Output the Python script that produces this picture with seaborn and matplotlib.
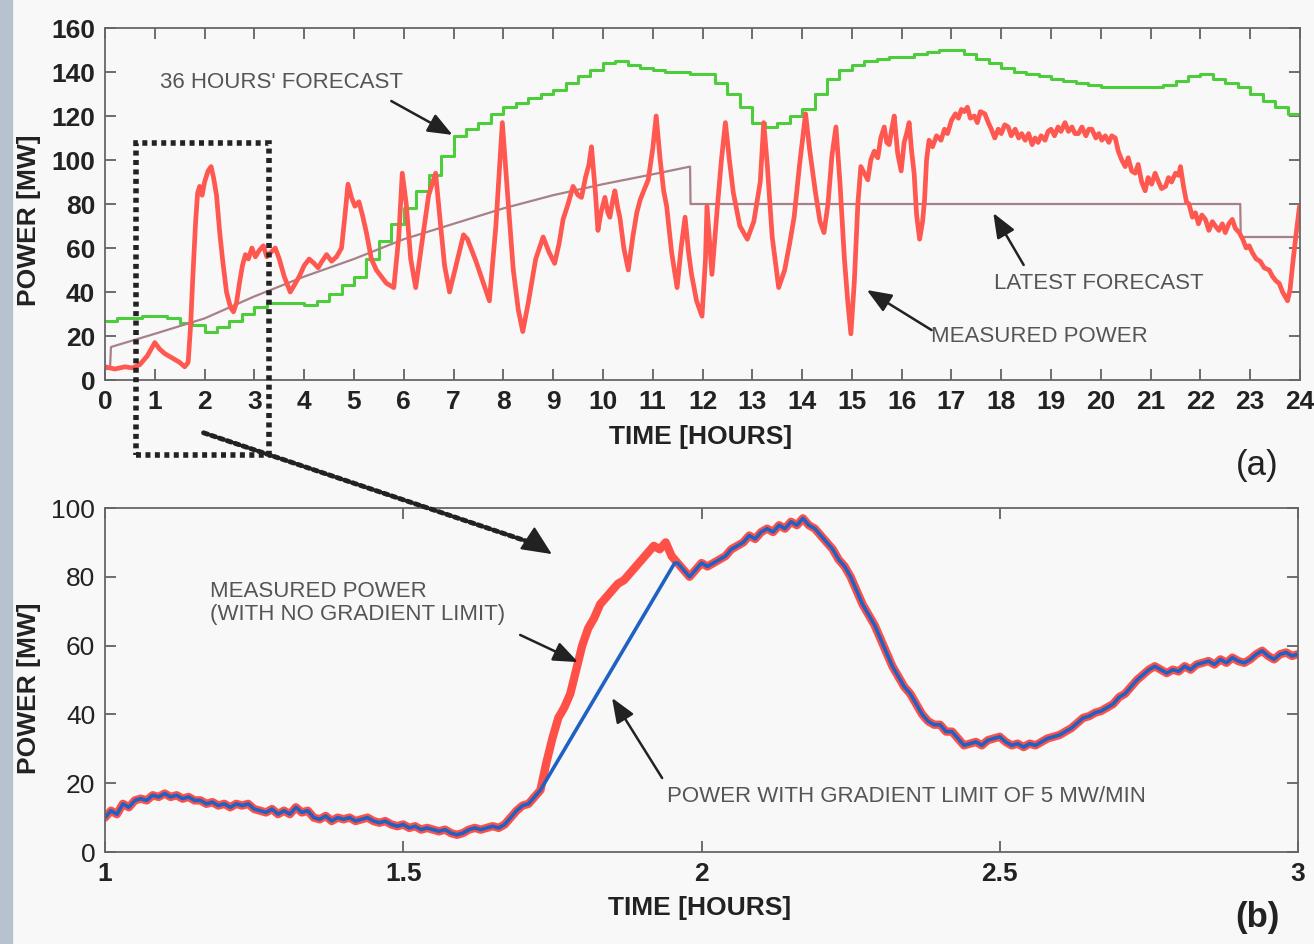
import numpy as np
import seaborn as sns
import matplotlib.pyplot as plt
from matplotlib.patches import Rectangle

# ---------------- data ----------------
# (a) 36 hours' forecast, stepped every quarter hour
fc36_t = np.arange(0, 24.01, 0.25)
fc36_mw = [27, 28, 28, 29, 29, 28, 26, 25, 22, 24, 27, 30, 33, 35, 35, 35,
           34, 36, 39, 43, 47, 55, 63, 71, 78, 86, 93, 102, 111, 114, 117, 121,
           124, 126, 128, 130, 132, 135, 138, 141, 144, 145, 143, 142, 141, 140, 140, 139,
           139, 135, 130, 124, 117, 115, 117, 120, 123, 130, 137, 141, 143, 145, 146, 147,
           147, 148, 149, 150, 150, 148, 146, 144, 142, 140, 139, 138, 137, 136, 135, 134,
           133, 133, 133, 133, 133, 134, 136, 138, 139, 137, 135, 133, 130, 127, 124, 121,
           119]

# (a) latest forecast
latest_t = [0, 0.1, 0.12, 1, 2, 3, 4, 5, 6, 7, 8, 9, 10, 11, 11.75, 11.76, 22.8, 22.81, 24]
latest_mw = [5, 5, 15, 21, 28, 38, 47, 55, 64, 71, 78, 84, 89, 93.5, 97, 80, 80, 65, 65]

# (a) measured power
meas_t = [0.0, 0.2, 0.4, 0.55, 0.7, 0.85, 1.0, 1.1, 1.2, 1.35, 1.5, 1.6, 1.67, 1.72, 1.76,
          1.82, 1.86, 1.9, 1.95, 2.0, 2.07, 2.13, 2.18, 2.24, 2.3, 2.36, 2.44, 2.52, 2.58,
          2.64, 2.7, 2.76, 2.82, 2.88, 2.95, 3.02, 3.1, 3.18, 3.25, 3.33, 3.42, 3.5, 3.6,
          3.72, 3.8, 3.9, 4.0, 4.1, 4.2, 4.28, 4.36, 4.45, 4.55, 4.65, 4.75, 4.82, 4.88,
          4.95, 5.02, 5.1, 5.17, 5.25, 5.35, 5.45, 5.55, 5.65, 5.8, 5.9, 5.97, 6.05, 6.14,
          6.24, 6.35, 6.5, 6.64, 6.72, 6.82, 6.92, 7.05, 7.2, 7.28, 7.45, 7.6, 7.72, 7.85,
          7.98, 8.1, 8.2, 8.3, 8.39, 8.5, 8.65, 8.8, 8.92, 9.03, 9.12, 9.2, 9.3, 9.4, 9.5,
          9.57, 9.65, 9.72, 9.77, 9.85, 9.9, 9.96, 10.04, 10.1, 10.14, 10.2, 10.24, 10.3,
          10.34, 10.42, 10.51, 10.6, 10.68, 10.75, 10.82, 10.91, 11.0, 11.07, 11.15, 11.22,
          11.28, 11.38, 11.49, 11.57, 11.65, 11.72, 11.78, 11.88, 11.99, 12.06, 12.09, 12.15,
          12.19, 12.25, 12.3, 12.38, 12.46, 12.54, 12.62, 12.75, 12.9, 13.03, 13.16, 13.23,
          13.3, 13.4, 13.53, 13.65, 13.75, 13.84, 13.95, 14.07, 14.15, 14.27, 14.36, 14.44,
          14.52, 14.6, 14.68, 14.76, 14.85, 14.92, 14.98, 15.05, 15.12, 15.18, 15.25, 15.32,
          15.38, 15.45, 15.52, 15.58, 15.65, 15.7, 15.75, 15.8, 15.85, 15.92, 15.99, 16.05,
          16.1, 16.15, 16.2, 16.25, 16.3, 16.36, 16.42, 16.46, 16.5, 16.55, 16.62, 16.7,
          16.79, 16.86, 16.92, 17.0, 17.08, 17.14, 17.2, 17.26, 17.32, 17.38, 17.46, 17.52,
          17.58, 17.67, 17.74, 17.8, 17.87, 17.94, 18.0, 18.07, 18.14, 18.2, 18.28, 18.35,
          18.41, 18.48, 18.55, 18.62, 18.68, 18.74, 18.8, 18.88, 18.94, 19.0, 19.07, 19.14,
          19.2, 19.28, 19.35, 19.42, 19.48, 19.55, 19.62, 19.7, 19.76, 19.82, 19.9, 19.96,
          20.02, 20.09, 20.16, 20.22, 20.29, 20.35, 20.42, 20.49, 20.55, 20.62, 20.69, 20.75,
          20.82, 20.89, 20.95, 21.02, 21.09, 21.16, 21.22, 21.3, 21.36, 21.42, 21.5, 21.56,
          21.6, 21.66, 21.72, 21.77, 21.84, 21.9, 21.96, 22.03, 22.1, 22.17, 22.24, 22.3,
          22.37, 22.44, 22.5, 22.57, 22.64, 22.7, 22.78, 22.85, 22.92, 22.98, 23.04, 23.12,
          23.2, 23.28, 23.38, 23.45, 23.52, 23.58, 23.65, 23.7, 23.75, 23.8, 23.85, 23.92,
          23.99]
meas_mw = [6, 5, 6, 5.5, 7, 11, 17, 14, 12, 10, 8, 6, 8, 25, 45,
           72, 85, 88, 84, 90, 95, 97, 92, 84, 68, 55, 40, 33, 31,
           35, 44, 52, 57, 55, 60, 56, 59, 61, 56, 58, 60, 55, 47,
           40, 43, 47, 52, 55, 53, 51, 54, 57, 54, 56, 60, 75, 89,
           83, 79, 81, 75, 67, 55, 50, 47, 44, 42, 65, 94, 80, 55,
           42, 60, 84, 94, 75, 52, 40, 52, 66, 64, 54, 44, 36, 70,
           117, 80, 50, 32, 22, 35, 55, 65, 58, 53, 62, 73, 80, 88, 84,
           83, 92, 98, 106, 85, 68, 76, 83, 76, 74, 82, 86, 78,
           74, 60, 50, 65, 76, 82, 86, 91, 105, 120, 100, 86,
           79, 58, 42, 60, 74, 58, 48, 36, 29, 55, 79, 60,
           48, 65, 79, 100, 117, 100, 85, 70, 64, 72, 90, 117,
           98, 65, 42, 50, 62, 74, 98, 121, 105, 85, 72, 67,
           80, 102, 115, 90, 55, 35, 21, 45, 80, 97, 94, 91,
           100, 104, 101, 110, 115, 108, 107, 114, 120, 103, 95, 108,
           112, 117, 104, 94, 75, 64, 72, 82, 100, 109, 106, 111,
           109, 114, 112, 118, 121, 119, 123, 122, 124, 119, 120, 117,
           122, 121, 117, 114, 110, 114, 112, 116, 115, 111, 114, 110,
           112, 109, 112, 107, 110, 108, 111, 109, 113, 114, 111, 115,
           113, 117, 113, 115, 112, 112, 115, 111, 114, 114, 110, 112,
           109, 111, 108, 111, 110, 104, 100, 97, 101, 95, 94, 98,
           90, 86, 92, 89, 94, 90, 87, 88, 92, 90, 94, 93,
           97, 88, 81, 80, 74, 76, 71, 75, 73, 68, 72, 70,
           68, 71, 67, 71, 73, 69, 67, 64, 60, 61, 58, 55,
           54, 51, 50, 47, 45, 44, 40, 38, 36, 41, 52, 66,
           79]

# (b) measured power between hour 1 and 3, sampled every 0.01 h
zoom_t = np.round(np.arange(1.0, 3.001, 0.01), 2)
zoom_mw = [10, 12, 11, 14, 13, 15, 15.5, 15, 16.5, 16, 17, 16, 16.5, 15.5, 16, 15, 15, 14, 14.5, 13.5,
           14, 13, 14, 13.5, 14, 12.5, 12, 11.5, 12.5, 11, 12, 11, 13, 11.5, 12, 10, 9.5, 10.5, 9, 10,
           9.5, 10, 9, 9.5, 10, 9, 8.5, 9, 8, 7.5, 8, 7, 7.5, 6.5, 7, 6.5, 6, 6.5, 5.5, 5,
           5.5, 6.5, 7, 6.5, 7, 7.5, 7, 8, 10, 12, 13.5, 14, 16, 18, 26, 33, 39, 42, 46, 53,
           60, 65, 68, 72, 74, 76, 78, 79, 81, 83, 85, 87, 89, 88, 90, 86, 84, 82, 80, 82,
           84, 83, 84, 85, 86, 88, 89, 90, 92, 91, 93, 94, 93, 95, 94, 96, 95, 97, 95, 94,
           92, 90, 88, 85, 83, 80, 76, 72, 69, 66, 62, 58, 54, 51, 48, 46, 43, 40, 38, 37,
           37, 35, 35, 33, 31, 31.5, 32, 31, 32.5, 33, 33.5, 32, 31, 31.5, 30.5, 31.5, 31, 32, 33, 33.5,
           34, 35, 36, 37.5, 39, 39.5, 40.5, 41, 42, 43, 45, 46, 48, 50, 51.5, 53, 54, 53, 52, 53,
           52.5, 54, 53, 54.5, 55, 55.5, 54.5, 56, 55, 56.5, 55.5, 55, 56, 57.5, 58.5, 57, 56, 57.5, 58, 57,
           57.5]

# (b) gradient-limited power: follows the measurement except on the ramp 1.73 h -> 1.955 h
ramp_start, ramp_end, ramp_end_mw = 1.73, 1.955, 84
lim_t = [t for t in zoom_t if t <= ramp_start] + [ramp_end] + [t for t in zoom_t if t >= 1.96]
lim_mw = ([m for t, m in zip(zoom_t, zoom_mw) if t <= ramp_start] + [ramp_end_mw]
          + [m for t, m in zip(zoom_t, zoom_mw) if t >= 1.96])

top_xticks = list(range(0, 25))
top_yticks = [0, 20, 40, 60, 80, 100, 120, 140, 160]
bot_xticks = [1, 1.5, 2, 2.5, 3]
bot_xticklabels = ['1', '1.5', '2', '2.5', '3']
bot_yticks = [0, 20, 40, 60, 80, 100]

# ---------------- styling ----------------
bg = '#f8f8f8'
sns.set_theme(style='ticks', rc={'axes.facecolor': bg, 'figure.facecolor': bg})
plt.rcParams['font.family'] = ['Liberation Sans', 'DejaVu Sans']

fig = plt.figure(figsize=(13.14, 9.44), dpi=100)
ax1 = fig.add_axes([105 / 1314, 1 - 380 / 944, 1195 / 1314, 352 / 944])
ax2 = fig.add_axes([105 / 1314, 1 - 852 / 944, 1193 / 1314, 344 / 944])

# left edge strip of the slide
fig.add_artist(Rectangle((0, 0), 12 / 1314, 1, transform=fig.transFigure,
                         color='#b7c2cf', zorder=0))

# ---- panel (a)
sns.lineplot(x=fc36_t, y=fc36_mw, ax=ax1, color='#4dcc3c', lw=2.2,
             drawstyle='steps-post', estimator=None, sort=False)
sns.lineplot(x=latest_t, y=latest_mw, ax=ax1, color='#a88088', lw=1.6,
             estimator=None, sort=False)
sns.lineplot(x=meas_t, y=meas_mw, ax=ax1, color='#ff5850', lw=3.4,
             estimator=None, sort=False)

# ---- panel (b)
sns.lineplot(x=zoom_t, y=zoom_mw, ax=ax2, color='#ff5048', lw=6,
             estimator=None, sort=False)
sns.lineplot(x=lim_t, y=lim_mw, ax=ax2, color='#1f62c4', lw=2.6,
             estimator=None, sort=False)

for ax in (ax1, ax2):
    for sp in ax.spines.values():
        sp.set_visible(True)
        sp.set_color('#666666')
        sp.set_linewidth(1.3)
    ax.tick_params(direction='in', length=8, width=1.2, top=True, right=True,
                   labelsize=19, color='#555555', labelcolor='#222222', pad=7)

ax1.set_xlim(0, 24)
ax1.set_ylim(0, 160)
ax1.set_xticks(top_xticks)
ax1.set_yticks(top_yticks)
plt.setp(ax1.get_xticklabels() + ax1.get_yticklabels(), fontweight='bold')

ax2.set_xlim(1, 3)
ax2.set_ylim(0, 100)
ax2.set_xticks(bot_xticks, labels=bot_xticklabels)
ax2.set_yticks(bot_yticks)
plt.setp(ax2.get_xticklabels(), fontweight='bold')

lab = dict(fontsize=19, fontweight='bold', color='#222222', ha='center', va='center')
ax1.set_ylabel('POWER [MW]', **lab)
ax1.yaxis.set_label_coords(-0.064, 0.455)
ax1.set_xlabel('TIME [HOURS]', **lab)
ax1.xaxis.set_label_coords(0.498, -0.162)
ax2.set_ylabel('POWER [MW]', **lab)
ax2.yaxis.set_label_coords(-0.064, 0.477)
ax2.set_xlabel('TIME [HOURS]', **lab)
ax2.xaxis.set_label_coords(0.498, -0.163)

# ---- annotations
note = dict(fontsize=16, color='#555555')
arrow = dict(arrowstyle='-|>,head_length=1.0,head_width=0.4', color='#222222',
             lw=1.8, mutation_scale=15, shrinkA=0, shrinkB=0)

ax1.text(3.55, 135, "36 HOURS' FORECAST", ha='center', va='center', **note)
ax1.annotate('', xy=(6.98, 111.4), xytext=(5.75, 126.8), arrowprops=arrow)
ax1.text(19.96, 44, 'LATEST FORECAST', ha='center', va='center', **note)
ax1.annotate('', xy=(17.84, 75.9), xytext=(18.45, 52.3), arrowprops=arrow)
ax1.text(18.77, 20, 'MEASURED POWER', ha='center', va='center', **note)
ax1.annotate('', xy=(15.3, 40.9), xytext=(16.6, 22.7), arrowprops=arrow)

ax2.text(1.176, 72.4, 'MEASURED POWER\n(WITH NO GRADIENT LIMIT)', ha='left', va='center',
         linespacing=1.15, **note)
ax2.annotate('', xy=(1.793, 55.2), xytext=(1.696, 63.1), arrowprops=arrow)
ax2.text(1.942, 16, 'POWER WITH GRADIENT LIMIT OF 5 MW/MIN', ha='left', va='center', **note)
ax2.annotate('', xy=(1.85, 44.8), xytext=(1.934, 21.5), arrowprops=arrow)

# dotted zoom box and connector (dotted shaft, solid head)
ax1.add_patch(Rectangle((0.63, -34), 2.66, 141.7, fill=False, ec='#222222', lw=4,
                        ls=(0, (0.9, 0.8)), clip_on=False, zorder=5))
ax2.annotate('', xy=(1.725, 89.3), xycoords='data', xytext=(1.98, -24), textcoords=ax1.transData,
             arrowprops=dict(arrowstyle='-', color='#222222', lw=3.5, ls=(0, (0.9, 0.8)),
                             shrinkA=0, shrinkB=0),
             annotation_clip=False)
ax2.annotate('', xy=(1.749, 86.6), xytext=(1.72, 89.9),
             arrowprops=dict(arrowstyle='-|>,head_length=1.1,head_width=0.5', color='#222222',
                             lw=1.5, mutation_scale=17, shrinkA=0, shrinkB=0),
             annotation_clip=False)

fig.text(1257 / 1314, 1 - 465 / 944, '(a)', ha='center', va='center', fontsize=25, color='#222222')
fig.text(1257 / 1314, 1 - 918 / 944, '(b)', ha='center', va='center', fontsize=25,
         fontweight='bold', color='#222222')

fig.savefig('out.png', dpi=100, facecolor=bg)
